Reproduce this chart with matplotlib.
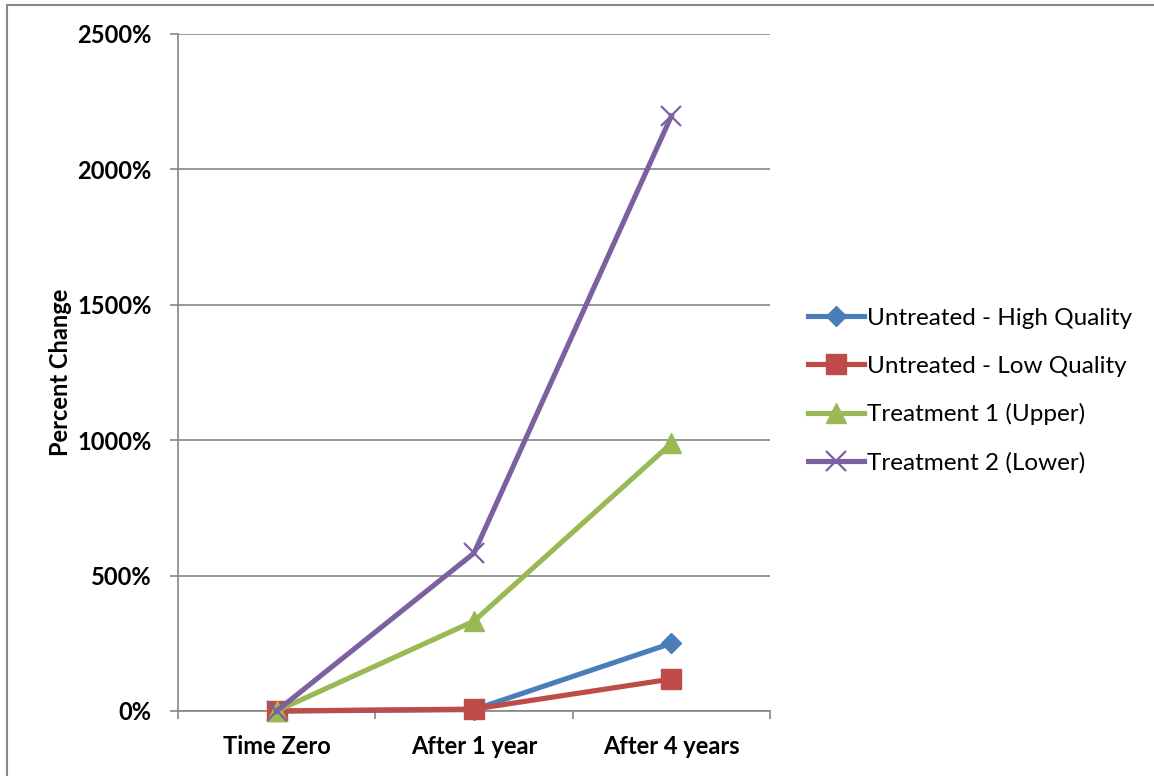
import matplotlib.pyplot as plt
from matplotlib.patches import Rectangle
from matplotlib.ticker import FuncFormatter, FixedLocator

# data (percent change)
categories = ["Time Zero", "After 1 year", "After 4 years"]
untreated_high = [0, 5, 250]
untreated_low = [0, 7, 118]
treatment_1 = [0, 332, 988]
treatment_2 = [0, 583, 2197]

series_names = [
    "Untreated - High Quality",
    "Untreated - Low Quality",
    "Treatment 1 (Upper)",
    "Treatment 2 (Lower)",
]
series_values = [untreated_high, untreated_low, treatment_1, treatment_2]

colors = ["#4A7EBB", "#BE4B48", "#98B954", "#7D60A0"]
markers = ["D", "s", "^", "x"]
marker_sizes = [10, 14, 14, 14]

plt.rcParams["font.family"] = ["Lato", "DejaVu Sans"]

W, H = 1154, 776
fig = plt.figure(figsize=(W / 100, H / 100), dpi=100)
ax = fig.add_axes([178 / W, 1 - 711 / H, (770 - 178) / W, (711 - 34) / H])

x = list(range(len(categories)))
for name, vals, c, m, ms in zip(series_names, series_values, colors, markers, marker_sizes):
    ax.plot(
        x, vals, color=c, lw=3.7, marker=m, ms=ms,
        markeredgecolor=c, markeredgewidth=1.6 if m == "x" else 1,
        label=name, clip_on=False, zorder=3,
    )

ax.set_xlim(-0.5, 2.5)
ax.set_ylim(0, 2500)
ax.set_yticks(range(0, 2501, 500))
ax.yaxis.set_major_formatter(FuncFormatter(lambda v, p: f"{int(v)}%"))
ax.grid(axis="y", color="#868686", lw=1.2)
ax.set_axisbelow(True)

# category ticks between groups, labels centred
ax.xaxis.set_major_locator(FixedLocator([-0.5, 0.5, 1.5, 2.5]))
ax.xaxis.set_major_formatter(FuncFormatter(lambda v, p: ""))
ax.xaxis.set_minor_locator(FixedLocator(x))
ax.set_xticklabels(categories, minor=True)
ax.tick_params(axis="x", which="minor", length=0, pad=17, labelsize=17)
ax.tick_params(axis="x", which="major", length=6, color="#868686", width=1.2)
ax.tick_params(axis="y", length=6, color="#868686", width=1.2, labelsize=17, pad=13)
for lbl in ax.get_xticklabels(minor=True) + ax.get_yticklabels():
    lbl.set_fontweight("bold")

for side in ["top", "right"]:
    ax.spines[side].set_visible(False)
for side in ["left", "bottom"]:
    ax.spines[side].set_color("#868686")
    ax.spines[side].set_linewidth(1.2)

ax.set_ylabel("Percent Change", fontsize=17, fontweight="bold", labelpad=4)

leg = ax.legend(
    loc="center left", bbox_to_anchor=(1.064, 0.473), frameon=False,
    fontsize=17.5, handlelength=2.3, handletextpad=0.15, labelspacing=1.1,
    borderaxespad=0, borderpad=0,
)

# outer chart border
fig.add_artist(Rectangle((7 / W, -0.1), 1.2, 1 - 5 / H + 0.1, transform=fig.transFigure,
                         fill=False, edgecolor="#868686", lw=1.5))

fig.savefig("out.png", dpi=100)
